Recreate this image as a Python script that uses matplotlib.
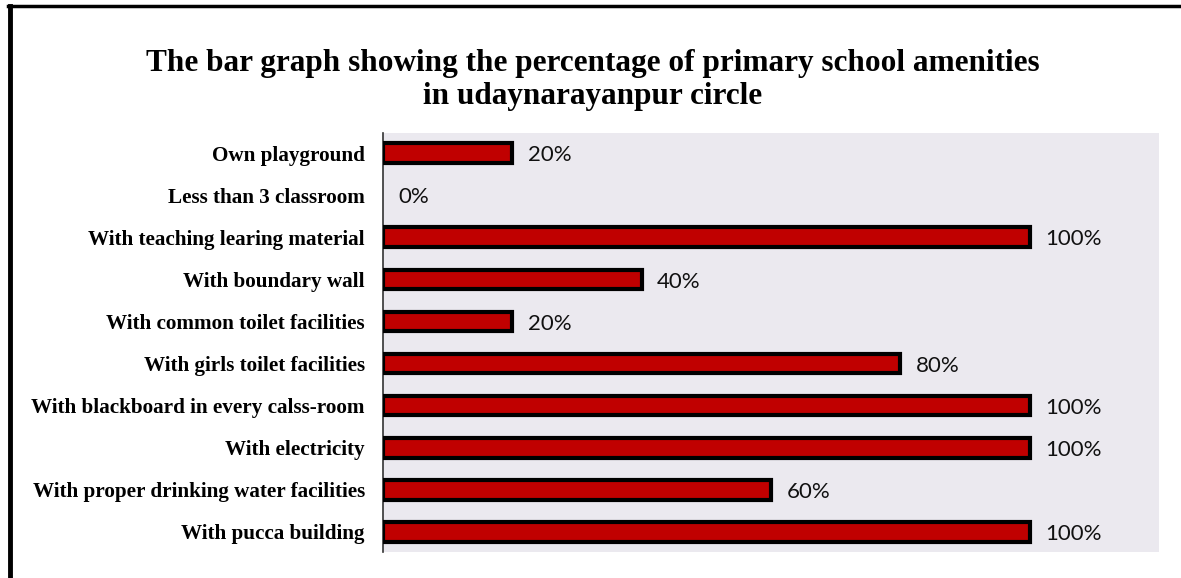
import matplotlib
matplotlib.use("Agg")
import matplotlib.pyplot as plt
from matplotlib.lines import Line2D

categories = [
    "Own playground",
    "Less than 3 classroom",
    "With teaching learing material",
    "With boundary wall",
    "With common toilet facilities",
    "With girls toilet facilities",
    "With blackboard in every calss-room",
    "With electricity",
    "With proper drinking water facilities",
    "With pucca building",
]
values = [20, 0, 100, 40, 20, 80, 100, 100, 60, 100]
title = "The bar graph showing the percentage of primary school amenities\nin udaynarayanpur circle"

fig = plt.figure(figsize=(11.81, 5.78), dpi=100)
ax = fig.add_axes([383/1181, 1-552/578, (1159-383)/1181, (552-133)/578])
ax.set_facecolor("#EBE9EF")

y = list(range(len(categories)))
lws = [3 if v > 0 else 0 for v in values]
ax.barh(y, values, height=0.47, color="#C00000", edgecolor="black", linewidth=lws, zorder=3)
for yi, v in zip(y, values):
    ax.text(v + 2.4, yi + 0.05, f"{v}%", va="center", ha="left", fontsize=16,
            family="Lato", color="#111111")

ax.set_yticks(y)
ax.set_yticklabels(categories, fontsize=15.2, fontweight="bold", family="Liberation Serif")
ax.tick_params(axis="y", length=0, pad=13)
ax.set_xticks([])
ax.set_xlim(0, 120)
ax.set_ylim(9.48, -0.48)
for s in ["top", "right", "bottom"]:
    ax.spines[s].set_visible(False)
ax.spines["left"].set_color("#333333")
ax.spines["left"].set_linewidth(1.2)

fig.text(593/1181, 1 - 80/578, title, ha="center", va="center", fontsize=22.5,
         fontweight="bold", family="Liberation Serif", linespacing=1.2)

fig.add_artist(Line2D([10/1181, 10/1181], [0, 1 - 6/578], transform=fig.transFigure,
                      color="black", linewidth=3.5))
fig.add_artist(Line2D([8/1181, 1], [1 - 6/578, 1 - 6/578], transform=fig.transFigure,
                      color="black", linewidth=2.5))

fig.savefig("out.png", dpi=100)
